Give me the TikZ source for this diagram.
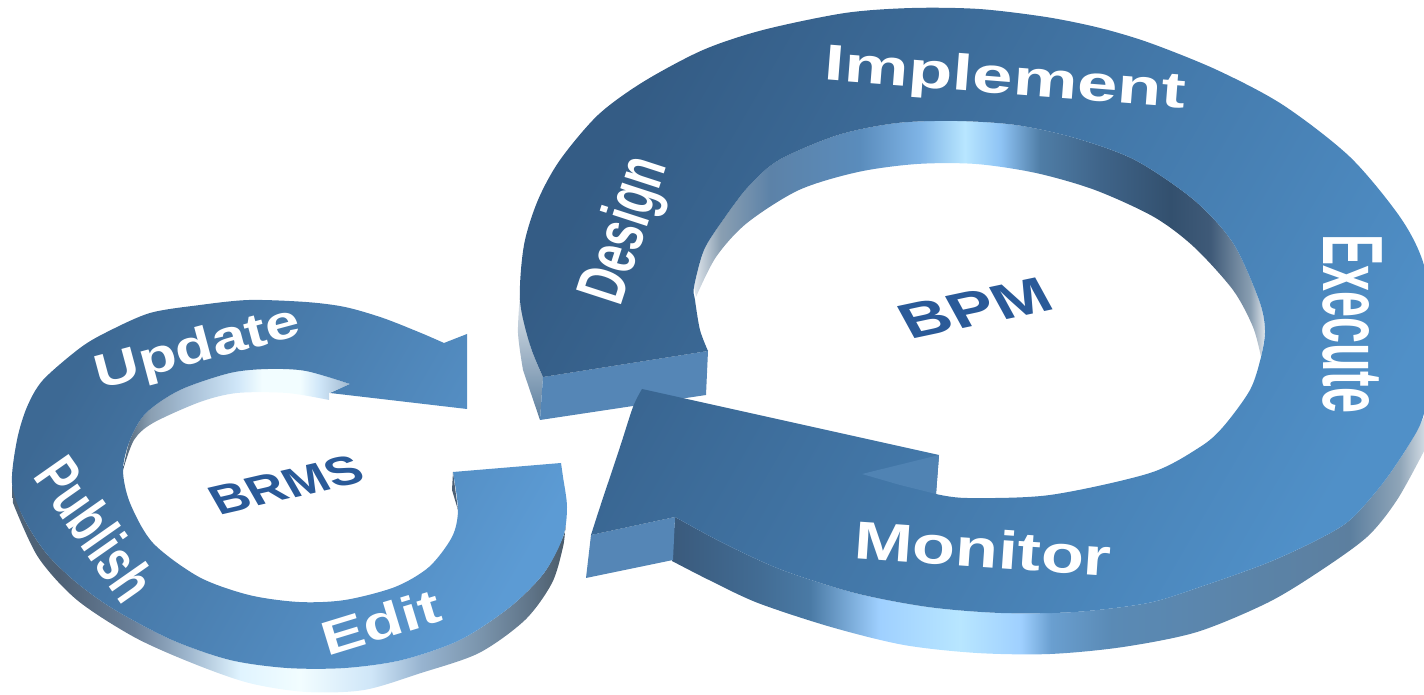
\documentclass[tikz,border=0pt]{standalone}
\usepackage{fontspec}
\setmainfont{Liberation Sans}
\definecolor{rimdark}{HTML}{33506E}
\definecolor{rimslate}{HTML}{3A5A7C}
\definecolor{rimsteel}{HTML}{5A8AB5}
\definecolor{rimgrey}{HTML}{5C7F9F}
\definecolor{rimsky}{HTML}{9FD0FF}
\definecolor{rimglow}{HTML}{B8E6FF}
\definecolor{rimpale}{HTML}{E0E6EC}
\definecolor{rimwhite}{HTML}{F2FDFF}
\definecolor{outerb}{HTML}{426C94}
\definecolor{outerc}{HTML}{4A7AA5}
\definecolor{outerd}{HTML}{6A9FD0}
\definecolor{outere}{HTML}{8FA5B8}
\definecolor{innerb}{HTML}{8A9FB2}
\definecolor{innerc}{HTML}{5C82A8}
\definecolor{innerd}{HTML}{5A8CBC}
\definecolor{innere}{HTML}{7FB4E6}
\definecolor{innerf}{HTML}{8FC4F5}
\definecolor{innerg}{HTML}{4F7DA6}
\definecolor{innerh}{HTML}{3F6489}
\definecolor{inneri}{HTML}{3F5A78}
\definecolor{smalla}{HTML}{4F6478}
\definecolor{smallb}{HTML}{4D6075}
\definecolor{smallc}{HTML}{6A8099}
\definecolor{smalld}{HTML}{A0B8CF}
\definecolor{smalle}{HTML}{E0F4FF}
\definecolor{smallf}{HTML}{CFE6F8}
\definecolor{smallg}{HTML}{98B4D0}
\definecolor{smallh}{HTML}{7A94AC}
\definecolor{smalli}{HTML}{5F7488}
\definecolor{smallj}{HTML}{4A5A68}
\definecolor{frontblue}{HTML}{5586B6}
\definecolor{wingblue}{HTML}{5083B3}
\definecolor{facedark}{HTML}{345C85}
\definecolor{facelight}{HTML}{5090C8}
\definecolor{smalldark}{HTML}{3D6994}
\definecolor{smalllight}{HTML}{5C9BD4}
\definecolor{titleblue}{HTML}{2A5A98}
\pgfdeclarehorizontalshading{bigouter}{100bp}{color(0bp)=(rimslate); color(25bp)=(rimslate); color(30.8bp)=(outerb); color(34.1bp)=(outerc); color(38.7bp)=(rimsky); color(44bp)=(rimglow); color(48bp)=(rimsky); color(50bp)=(outerd); color(54bp)=(rimsteel); color(69.7bp)=(rimgrey); color(73bp)=(outere); color(75bp)=(rimpale); color(100bp)=(rimpale)}
\pgfdeclarehorizontalshading{biginner}{100bp}{color(0bp)=(rimpale); color(25bp)=(rimpale); color(27.3bp)=(innerb); color(31.7bp)=(innerc); color(39.5bp)=(innerd); color(44.8bp)=(innere); color(48.7bp)=(rimglow); color(51.8bp)=(innerf); color(55.3bp)=(innerg); color(60.6bp)=(innerh); color(66.7bp)=(rimdark); color(70.2bp)=(inneri); color(73.7bp)=(innerb); color(75bp)=(rimpale); color(100bp)=(rimpale)}
\pgfdeclarehorizontalshading{smallouter}{100bp}{color(0bp)=(smalla); color(25bp)=(smalla); color(29.3bp)=(smallb); color(36bp)=(smallc); color(41bp)=(smalld); color(45.6bp)=(smalle); color(51bp)=(rimwhite); color(57.4bp)=(smallf); color(61.9bp)=(smallg); color(67.3bp)=(smallh); color(71.8bp)=(smalli); color(75bp)=(smallj); color(100bp)=(smallj)}
\pgfdeclarehorizontalshading{smallinner}{100bp}{color(0bp)=(smalla); color(25bp)=(smalla); color(31bp)=(innerb); color(37.5bp)=(smalld); color(50bp)=(smallf); color(55.6bp)=(rimwhite); color(64bp)=(rimwhite); color(68.3bp)=(smallf); color(75bp)=(smalld); color(100bp)=(smalld)}
\tikzstyle{bigface}=[top color=facedark, bottom color=facelight, shading angle=60]
\tikzstyle{smallface}=[top color=smalldark, bottom color=smalllight, shading angle=60]
\tikzstyle{stepname}=[text=white, inner sep=0pt, transform shape, font=\fontsize{32}{32}\selectfont\bfseries]
\tikzstyle{ringname}=[text=titleblue, inner sep=0pt, transform shape, font=\fontsize{32}{32}\selectfont\bfseries]
\begin{document}
\begin{tikzpicture}[x=0.02cm, y=-0.02cm]
\useasboundingbox (0,0) rectangle (1424,695);
% Big ring walls
    \shade[shading=bigouter] plot[smooth] coordinates {(675,517) (723,543) (782,570) (855,593) (928,607) (1001,613) (1075,612) (1148,603) (1200,587) (1267,563) (1317,540) (1350,520) (1383,483) (1410,443) (1430,405)}
        -- (1430,440) -- plot[smooth] coordinates {(1423,453) (1397,500) (1367,537) (1317,573) (1267,603) (1197,632) (1123,647) (1050,654) (977,653) (904,645) (831,627) (758,603) (709,580) (672,561)} -- cycle;
    \shade[top color=rimpale, bottom color=rimgrey] plot[smooth] coordinates {(520,295) (530,345) (543,377)} -- (540,420) -- plot[smooth] coordinates {(523,370) (518,333) (520,295)} -- cycle;
    \shade[shading=biginner] plot[smooth] coordinates {(694,287) (704,250) (723,220) (748,187) (779,160) (838,135) (897,123) (957,121) (1016,125) (1075,138) (1135,160) (1194,200) (1233,243) (1259,300) (1265,330) (1261,357)}
        -- plot[smooth] coordinates {(1261,357) (1253,327) (1233,290) (1194,247) (1154,217) (1095,190) (1036,173) (976,164) (917,164) (858,172) (799,190) (747,223) (716,257) (696,297)} -- cycle;
% Big ring fronts
    \fill[frontblue] (543,377) -- (708,351) -- (706,395) -- (540,420) -- cycle;
    \fill[frontblue] (591,535) -- (675,517) -- (673,560) -- (586,578) -- cycle;
% Big ring top
    \shade[bigface] plot[smooth] coordinates {(543,377) (530,345) (520,300) (524,245) (538,200) (560,160) (598,115) (643,82) (703,50) (763,30) (845,13) (912,8) (979,9) (1046,17) (1100,28) (1150,43) (1217,70) (1283,105) (1350,157) (1400,217) (1423,262) (1433,320) (1433,370) (1423,417) (1410,443) (1383,483) (1350,520) (1317,540) (1267,563) (1200,587) (1148,603) (1075,612) (1001,613) (928,607) (855,593) (782,570) (723,543) (675,517)}
        -- (591,535) -- plot[smooth] coordinates {(591,535) (600,507) (620,447) (633,407) (642,389)} -- (939,455) -- (936,494)
        -- plot[smooth] coordinates {(936,494) (967,498) (1050,495) (1150,473) (1200,447) (1223,427) (1250,390) (1261,357) (1265,330) (1259,300) (1233,243) (1194,200) (1135,160) (1075,138) (1016,125) (957,121) (897,123) (838,135) (779,160) (748,187) (723,220) (704,250) (694,287) (695,300) (700,330) (708,351)} -- cycle;
    \fill[wingblue] (939,455) -- (936,494) -- (900,485) -- (862,474) -- cycle;
% Small ring walls
    \shade[shading=smallouter] plot[smooth] coordinates {(12,483) (23,517) (46,553) (77,583) (115,610) (172,640) (230,660) (287,668) (345,668) (402,660) (460,640) (510,607) (544,573) (563,537) (566,525)}
        -- plot[smooth] coordinates {(565,530) (563,547) (552,583) (525,620) (479,653) (421,673) (364,690) (306,692) (249,683) (192,663) (134,637) (77,600) (38,557) (13,503)} -- cycle;
    \shade[shading=smallinner] plot[smooth] coordinates {(123,470) (130,440) (146,413) (180,390) (230,373) (268,369) (306,371) (350,384)}
        -- (329,393) -- (329,400) -- plot[smooth] coordinates {(329,400) (287,393) (237,393) (200,402) (153,423) (134,440) (123,470)} -- cycle;
    \fill[smallb] (453,472) -- (458,510) -- (452,490) -- cycle;
% Small ring top
    \shade[smallface] plot[smooth] coordinates {(444,343) (421,333) (383,318) (345,307) (306,302) (249,300) (200,305) (150,313) (107,332) (80,348) (43,380) (27,407) (17,440) (12,483) (23,517) (46,553) (77,583) (115,610) (172,640) (230,660) (287,668) (345,668) (402,660) (460,640) (510,607) (544,573) (563,537) (567,507) (563,477) (561,463)}
        -- (453,472) -- plot[smooth] coordinates {(453,472) (458,510) (452,537) (429,567) (395,587) (345,600) (299,602) (249,595) (199,577) (153,543) (130,503) (123,470) (130,440) (146,413) (180,390) (230,373) (268,369) (306,371) (350,384)}
        -- (330,393) -- (467,409) -- (467,334) -- cycle;
% Step names
    \node[stepname, rotate=-4.5, xscale=1.29, yscale=0.9] (implement) at (1005,81) {Implement};
    \node[stepname, rotate=-90, xscale=0.83, yscale=1.52] (execute) at (1352,324) {Execute};
    \node[stepname, rotate=-4, xscale=1.25, yscale=0.95] (monitor) at (983,548) {Monitor};
    \node[stepname, rotate=72, xscale=0.8, yscale=1.22] (design) at (627,231) {Design};
    \node[stepname, rotate=15, xscale=1.1, yscale=0.85] (update) at (198,350) {Update};
    \node[stepname, rotate=-55, xscale=0.78, yscale=1.1] (publish) at (96,529) {Publish};
    \node[stepname, rotate=17, xscale=1.15, yscale=0.85] (edit) at (381,622) {Edit};
% Ring names
    \node[ringname, rotate=12, xslant=-0.3, xscale=1.2, yscale=0.9] (bpm) at (975,308) {BPM};
    \node[ringname, rotate=13, xslant=-0.3, xscale=0.92, yscale=0.75] (brms) at (286,485) {BRMS};
\end{tikzpicture}
\end{document}
